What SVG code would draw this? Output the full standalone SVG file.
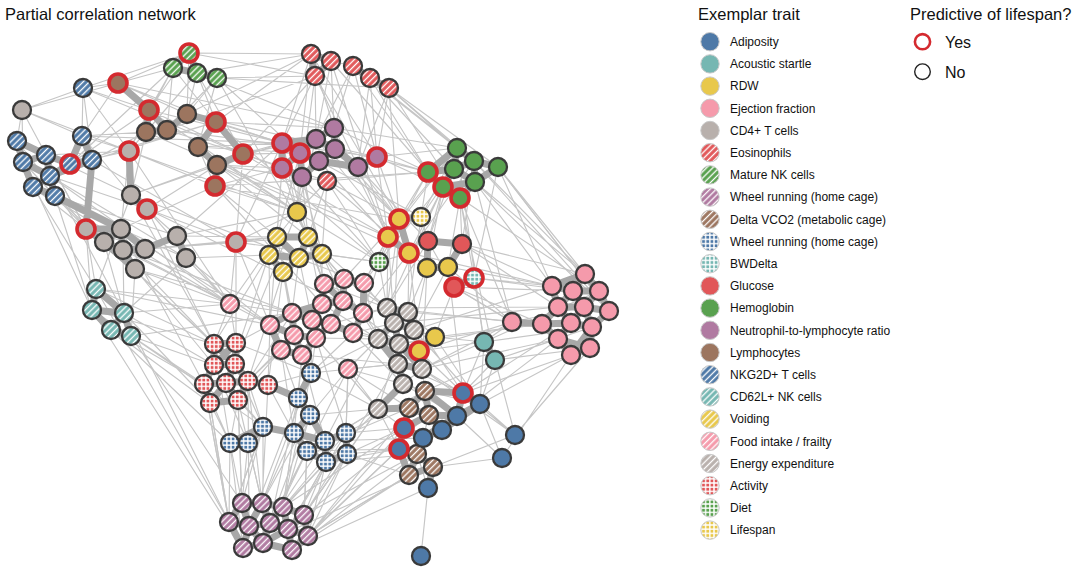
<svg xmlns="http://www.w3.org/2000/svg" width="1080" height="569" viewBox="0 0 1080 569">
<defs>
<pattern id="hEOS" patternUnits="userSpaceOnUse" width="4.4" height="4.4" patternTransform="rotate(45)"><rect width="4.4" height="4.4" fill="#e15759"/><rect x="1.6" width="1.3" height="4.4" fill="#fff"/></pattern>
<pattern id="hNK" patternUnits="userSpaceOnUse" width="4.4" height="4.4" patternTransform="rotate(45)"><rect width="4.4" height="4.4" fill="#59a14f"/><rect x="1.6" width="1.3" height="4.4" fill="#fff"/></pattern>
<pattern id="hWR" patternUnits="userSpaceOnUse" width="4.4" height="4.4" patternTransform="rotate(45)"><rect width="4.4" height="4.4" fill="#b07aa1"/><rect x="1.6" width="1.3" height="4.4" fill="#fff"/></pattern>
<pattern id="hVC" patternUnits="userSpaceOnUse" width="4.4" height="4.4" patternTransform="rotate(45)"><rect width="4.4" height="4.4" fill="#9c755f"/><rect x="1.6" width="1.3" height="4.4" fill="#fff"/></pattern>
<pattern id="hNKG" patternUnits="userSpaceOnUse" width="4.4" height="4.4" patternTransform="rotate(45)"><rect width="4.4" height="4.4" fill="#4e79a7"/><rect x="1.6" width="1.3" height="4.4" fill="#fff"/></pattern>
<pattern id="hCD62" patternUnits="userSpaceOnUse" width="4.4" height="4.4" patternTransform="rotate(45)"><rect width="4.4" height="4.4" fill="#76b7b2"/><rect x="1.6" width="1.3" height="4.4" fill="#fff"/></pattern>
<pattern id="hVOID" patternUnits="userSpaceOnUse" width="4.4" height="4.4" patternTransform="rotate(45)"><rect width="4.4" height="4.4" fill="#e8c84c"/><rect x="1.6" width="1.3" height="4.4" fill="#fff"/></pattern>
<pattern id="hFOOD" patternUnits="userSpaceOnUse" width="4.4" height="4.4" patternTransform="rotate(45)"><rect width="4.4" height="4.4" fill="#f59aab"/><rect x="1.6" width="1.3" height="4.4" fill="#fff"/></pattern>
<pattern id="hEE" patternUnits="userSpaceOnUse" width="4.4" height="4.4" patternTransform="rotate(45)"><rect width="4.4" height="4.4" fill="#b8b0ac"/><rect x="1.6" width="1.3" height="4.4" fill="#fff"/></pattern>
<pattern id="dWR" patternUnits="userSpaceOnUse" width="4.2" height="4.2"><rect width="4.2" height="4.2" fill="#fff"/><rect x="0.7" y="0.7" width="2.8" height="2.8" fill="#4e79a7"/></pattern>
<pattern id="dBW" patternUnits="userSpaceOnUse" width="4.2" height="4.2"><rect width="4.2" height="4.2" fill="#fff"/><rect x="0.7" y="0.7" width="2.8" height="2.8" fill="#76b7b2"/></pattern>
<pattern id="dACT" patternUnits="userSpaceOnUse" width="4.2" height="4.2"><rect width="4.2" height="4.2" fill="#fff"/><rect x="0.7" y="0.7" width="2.8" height="2.8" fill="#e15759"/></pattern>
<pattern id="dDIET" patternUnits="userSpaceOnUse" width="4.2" height="4.2"><rect width="4.2" height="4.2" fill="#fff"/><rect x="0.7" y="0.7" width="2.8" height="2.8" fill="#59a14f"/></pattern>
<pattern id="dLIFE" patternUnits="userSpaceOnUse" width="4.2" height="4.2"><rect width="4.2" height="4.2" fill="#fff"/><rect x="0.7" y="0.7" width="2.8" height="2.8" fill="#e8c84c"/></pattern>
</defs>
<style>
text{font-family:"Liberation Sans",Arial,sans-serif;fill:#111}
.title{font-size:16.5px}
.lt{font-size:12px}
.yn{font-size:16px}
.thin{fill:none;stroke:#c6c6c6;stroke-width:1.15}
.thick{fill:none;stroke:#a8a8a8;stroke-width:7;stroke-linecap:round}
.nodes circle{stroke:#3a3a3a;stroke-width:2.3}
.nodes circle.yes{stroke:#d42a2f;stroke-width:3.6}
.legend circle{stroke:#c8c8c8;stroke-width:1}
.A{fill:#4e79a7}.AS{fill:#76b7b2}.RDW{fill:#e8c84c}.EF{fill:#f59aab}.CD4{fill:#b8b0ac}
.GLU{fill:#e15759}.HB{fill:#59a14f}.NLR{fill:#b07aa1}.LY{fill:#9c755f}
.EOS{fill:url(#hEOS)}.NK{fill:url(#hNK)}.WR{fill:url(#hWR)}.VC{fill:url(#hVC)}.NKG{fill:url(#hNKG)}
.CD62{fill:url(#hCD62)}.VOID{fill:url(#hVOID)}.FOOD{fill:url(#hFOOD)}.EE{fill:url(#hEE)}
.WRD{fill:url(#dWR)}.BW{fill:url(#dBW)}.ACT{fill:url(#dACT)}.DIET{fill:url(#dDIET)}.LIFE{fill:url(#dLIFE)}
</style>
<rect width="1080" height="569" fill="#fff"/>
<text class="title" x="5" y="20">Partial correlation network</text>

<g id="connectors">
<path class="thin" d="M22 110L83 88M22 110L82 136M22 110L129 151M22 110L86 229M22 110L118 83M83 88L118 83M83 88L189 53M83 88L149 110M83 88L129 151M82 136L118 83M82 136L129 151M82 136L146 132M17 141L86 229M17 141L131 195M23 162L86 229M33 187L86 229M55 196L86 229M55 196L177 236M70 164L129 151M70 164L149 110M70 164L216 122M92 160L146 132M92 160L216 122M92 160L236 242M46 155L129 151M50 176L147 209M50 176L186 258M129 151L146 132M129 151L173 68M129 151L215 186M129 151L297 212M131 195L146 132M131 195L243 154M131 195L282 143M147 209L217 165M147 209L230 304M147 209L214 344M86 229L96 289M86 229L92 310M121 229L215 186M121 229L270 325M104 242L124 313M104 242L214 344M123 250L124 313M123 250L230 304M145 249L236 242M145 249L277 237M135 269L131 336M135 269L292 313M135 269L214 365M177 236L282 143M177 236L297 212M186 258L269 255M186 258L230 304M236 242L282 143M236 242L297 212M236 242L243 154M236 242L277 237M236 242L270 325M118 83L189 53M118 83L216 122M118 83L187 114M149 110L173 68M149 110L243 154M149 110L282 143M187 114L189 53M187 114L217 78M187 114L311 54M187 114L282 143M146 132L197 73M167 130L217 78M167 130L315 76M167 130L377 157M216 122L173 68M216 122L311 54M216 122L334 128M216 122L197 73M198 147L282 143M198 147L300 153M198 147L297 212M243 154L315 76M243 154L316 139M243 154L282 168M243 154L388 237M217 165L327 181M217 165L308 237M215 186L282 168M215 186L399 219M215 186L277 237M215 186L428 172M189 53L311 54M189 53L315 76M197 73L311 54M197 73L334 128M217 78L315 76M217 78L389 88M217 78L300 153M173 68L70 164"/>
<path class="thin" d="M311 54L282 143M311 54L300 153M315 76L316 139M315 76L358 167M331 61L334 128M331 61L428 172M353 66L377 157M353 66L457 148M370 78L474 161M370 78L377 157M389 88L457 148M389 88L498 167M389 88L460 198M389 88L358 167M353 66L316 139M315 76L297 212M282 143L297 212M282 143L308 237M334 128L457 148M334 128L428 172M316 139L399 219M335 149L428 172M300 153L297 212M319 161L388 237M319 161L421 217M282 168L277 237M302 177L297 212M302 177L322 254M358 167L399 219M358 167L428 241M377 157L428 172M377 157L443 187M377 157L457 148M377 157L388 237M327 181L399 219M327 181L322 254M327 181L379 262M327 181L427 268M282 168L270 325M300 153L324 284M302 177L379 262M457 148L399 219M474 161L462 244M498 167L585 274M498 167L599 291M498 167L552 286M475 182L585 274M475 182L512 322M428 172L399 219M428 172L388 237M428 172L379 262M443 187L428 241M443 187L409 253M460 198L462 244M460 198L474 278M460 198L512 322M454 169L421 217M474 161L609 311M457 148L484 342M460 198L495 360M443 187L387 308"/>
<path class="thin" d="M297 212L277 237M297 212L308 237M297 212L324 284M297 212L379 262M399 219L394 323M399 219L387 308M388 237L379 262M388 237L387 308M388 237L364 283M409 253L408 312M409 253L422 369M427 268L414 330M448 267L552 286M448 267L512 322M421 217L428 241M428 241L454 287M462 244L552 286M462 244L558 307M454 287L512 322M454 287L542 324M474 278L552 286M474 278L573 291M474 278L484 342M454 287L422 369M379 262L364 283M379 262L363 313M379 262L322 254M379 262L409 253M435 337L408 312M435 337L484 342M419 351L414 330M419 351L398 364M419 351L463 393M435 337L480 404M427 268L422 369M448 267L463 393M428 241L387 308M421 217L408 312M399 219L344 279M277 237L230 304M277 237L292 313M308 237L324 284M308 237L322 304M269 255L270 325M269 255L214 344M299 258L292 313M322 254L344 279M322 254L343 301M283 272L292 313M283 272L294 335M283 272L268 385M299 258L312 320M308 237L387 308M322 254L378 339M512 322L422 369M512 322L484 342M542 324L408 312M558 339L495 360M571 355L480 404M590 348L515 435M571 323L463 393M552 286L414 330M558 307L387 308M592 327L495 360M599 291L484 342M584 307L512 322M585 274L462 244M573 291L454 287M609 311L475 182M571 355L502 458M558 339L457 416M542 324L435 337M484 342L422 369M484 342L480 404M495 360L515 435M495 360L463 393M484 342L419 351M495 360L425 391"/>
<path class="thin" d="M96 289L230 304M96 289L270 325M96 289L131 195M92 310L214 344M92 310L204 384M124 313L230 304M124 313L214 365M111 330L210 403M131 336L204 384M131 336L292 313M131 336L263 427M124 313L186 258M111 330L230 443M96 289L229 522M131 336L242 503M230 304L236 343M230 304L270 325M230 304L292 313M324 284L387 308M344 279L387 308M364 283L394 323M364 283L378 339M322 304L378 339M343 301L399 344M363 313L398 364M363 313L387 308M331 324L399 344M316 338L378 409M353 333L378 339M353 333L403 384M353 333L311 373M302 355L311 373M302 355L298 398M281 350L248 381M294 335L248 381M348 369L403 384M348 369L378 409M348 369L346 433M270 325L236 343M292 313L248 381M312 320L311 373M316 338L346 433M348 369L409 408M302 355L325 441M281 350L294 433M230 304L214 344M236 242L230 304M422 369L480 404M422 369L425 391M398 364L463 393M403 384L425 391M378 409L325 441M378 409L347 454M378 409L404 428M378 409L399 449M378 339L311 373M378 339L348 369M399 344L378 409M403 384L457 416M398 364L442 430M394 323L435 337"/>
<path class="thin" d="M214 344L230 443M214 365L248 443M204 384L230 443M226 383L263 427M248 381L263 427M268 385L294 433M210 403L230 443M238 400L263 427M238 400L242 503M210 403L229 522M248 381L262 503M268 385L311 373M204 384L229 522M236 343L311 373M263 427L242 503M263 427L229 522M294 433L262 503M294 433L283 507M307 451L304 515M307 451L270 523M326 462L304 515M326 462L308 536M347 454L308 536M346 433L404 428M347 454L399 449M325 441L423 438M230 443L229 522M248 443L262 503M310 415L283 507M298 398L270 523M326 462L288 529M347 454L304 515M346 433L425 391M311 373L378 409M325 441L378 409M311 373L398 364M310 415L378 409M307 451L399 449M326 462L399 449M347 454L404 428M425 391L480 404M409 408L404 428M429 415L423 438M409 475L399 449M417 454L428 488M433 467L502 458M433 467L515 435M463 393L515 435M480 404L515 435M480 404L502 458M457 416L502 458M463 393L408 312M480 404L414 330M515 435L422 369M463 393L484 342M480 404L495 360M428 488L421 556M409 475L308 536M417 454L304 515M399 449L308 536M404 428L283 507M423 438L325 441M409 475L292 550"/>
<path class="thin" d="M242 503L230 443M262 503L248 443M283 507L294 433M304 515L307 451M229 522L263 427M270 523L326 462M288 529L326 462M308 536L404 428M308 536L425 391M292 550L399 449M292 550L417 454M283 507L346 433M304 515L347 454M270 523L325 441M249 526L298 398M242 503L238 400M263 543L307 451M262 503L311 373M229 522L124 313M243 548L92 310M83 88L243 154M82 136L282 143M33 187L230 304M55 196L214 344M23 162L92 310M50 176L230 304M118 83L334 128M149 110L297 212M187 114L377 157M146 132L388 237M167 130L327 181M216 122L379 262M217 165L409 253M215 186L322 304M197 73L243 154M217 78L308 237M311 54L377 157M331 61L388 237M315 76L399 219M370 78L428 172M389 88L399 219M334 128L388 237M316 139L409 253M457 148L388 237M474 161L409 253M498 167L474 278M454 169L379 262M428 172L327 181M131 195L364 283M147 209L363 313M104 242L292 313M177 236L277 237M186 258L270 325M236 242L379 262M129 151L230 304M86 229L230 304M121 229L204 384M145 249L308 237"/>
<path class="thin" d="M512 322L387 308M552 286L409 253M558 307L394 323M542 324L399 344M558 339L422 369M571 355L463 393M512 322L454 287M512 322L419 351M599 291L460 198M609 311L498 167M590 348L495 360M592 327L484 342M262 503L268 385M283 507L311 373M304 515L378 409M229 522L204 384M249 526L248 381M270 523L348 369M288 529L346 433M243 548L230 443M263 543L263 427M292 550L347 454M304 515L398 364M283 507L378 409M262 503L310 415M242 503L248 443M229 522L210 403M270 523L310 415M288 529L429 415M308 536L409 475M292 550L428 488M263 543L433 467M214 344L131 195M236 343L236 242M235 364L297 212M226 383L269 255M248 381L283 272M268 385L270 325M210 403L124 313M238 400L294 335M214 365L131 336M204 384L111 330M214 344L96 289M311 373L316 338M298 398L281 350M310 415L348 369M294 433L302 355M346 433L348 369M325 441L378 339M307 451L409 408M326 462L417 454M347 454L409 475M263 427L235 364M230 443L238 400M248 443L238 400"/>
<path class="thin" d="M17 141L22 110M83 88L82 136M83 88L92 160M22 110L23 162M82 136L131 195M46 155L86 229M33 187L96 289M55 196L92 310M50 176L124 313M86 229L145 249M121 229L186 258M135 269L230 304M123 250L214 344M131 195L177 236M147 209L236 242M129 151L121 229M129 151L149 110M118 83L173 68M149 110L189 53M167 130L173 68M187 114L197 73M198 147L217 78M243 154L300 153M217 165L282 168M215 186L297 212M217 165L297 212M243 154L282 143M198 147L215 186M216 122L282 143M311 54L334 128M315 76L282 143M331 61L316 139M353 66L334 128M370 78L358 167M389 88L377 157M353 66L428 172M370 78L454 169M389 88L474 161M331 61L353 66M327 181L308 237M327 181L297 212M302 177L308 237M358 167L388 237M377 157L399 219M300 153L277 237M282 168L297 212M316 139L297 212M335 149L399 219M498 167L609 311M475 182L552 286M460 198L448 267M443 187L427 268M474 161L585 274M454 169L428 241M428 172L421 217M457 148L421 217M324 284L297 212M344 279L308 237M364 283L388 237M322 304L322 254M363 313L409 253M353 333L394 323M348 369L398 364M331 324L387 308M316 338L378 339M302 355L398 364M408 312L427 268M414 330L448 267M387 308L379 262M394 323L388 237M399 344L435 337M422 369L435 337M403 384L422 369M398 364L378 339"/>
<path class="thick" d="M189 53L173 68M189 53L197 73M173 68L197 73M197 73L217 78M17 141L23 162M46 155L50 176M23 162L50 176M50 176L33 187M33 187L55 196M92 160L70 164M70 164L50 176M82 136L92 160M46 155L70 164M55 196L121 229M92 160L86 229M50 176L55 196M129 151L131 195M131 195L147 209M86 229L104 242M121 229L104 242M121 229L123 250M123 250L145 249M123 250L135 269M177 236L186 258M104 242L123 250M118 83L149 110M149 110L146 132M146 132L167 130M167 130L187 114M216 122L243 154M198 147L217 165M217 165L215 186M187 114L216 122M311 54L331 61M311 54L315 76M331 61L315 76M353 66L370 78M370 78L389 88M282 143L300 153M300 153L282 168M282 143L282 168M334 128L316 139M316 139L335 149M335 149L319 161M300 153L319 161M319 161L302 177M282 168L302 177M319 161L358 167M358 167L377 157M334 128L335 149M316 139L300 153M335 149L358 167M457 148L454 169M457 148L474 161M474 161L475 182M454 169L475 182M474 161L498 167M498 167L475 182M428 172L443 187M443 187L460 198M454 169L428 172M475 182L460 198M474 161L454 169M399 219L388 237M388 237L409 253M427 268L448 267M399 219L421 217M428 241L462 244M454 287L474 278M435 337L419 351M277 237L269 255M308 237L299 258M269 255L283 272M299 258L283 272M299 258L322 254M277 237L308 237M269 255L299 258"/>
<path class="thick" d="M585 274L599 291M552 286L573 291M573 291L584 307M599 291L584 307M558 307L584 307M573 291L558 307M584 307L609 311M558 307L542 324M542 324L571 323M571 323L592 327M571 323L558 339M558 339L571 355M592 327L590 348M590 348L571 355M512 322L542 324M552 286L558 307M599 291L609 311M585 274L573 291M584 307L571 323M585 274L552 286M609 311L592 327M542 324L558 339M484 342L495 360M96 289L92 310M92 310L111 330M124 313L111 330M111 330L131 336M124 313L131 336M324 284L344 279M344 279L364 283M324 284L322 304M322 304L343 301M343 301L363 313M344 279L343 301M292 313L312 320M312 320L331 324M292 313L270 325M270 325L294 335M294 335L316 338M312 320L316 338M331 324L316 338M294 335L281 350M281 350L302 355M316 338L302 355M331 324L353 333M363 313L353 333M322 304L312 320M292 313L294 335M387 308L408 312M387 308L394 323M408 312L414 330M394 323L414 330M394 323L378 339M394 323L399 344M378 339L399 344M399 344L398 364M398 364L422 369M398 364L403 384M399 344L414 330M403 384L378 409M378 409L409 408M419 351L399 344"/>
<path class="thick" d="M214 344L236 343M214 344L214 365M236 343L235 364M214 365L235 364M214 365L204 384M204 384L226 383M226 383L248 381M248 381L268 385M204 384L210 403M226 383L238 400M210 403L238 400M235 364L226 383M298 398L310 415M310 415L294 433M263 427L294 433M294 433L307 451M325 441L346 433M325 441L307 451M346 433L347 454M307 451L326 462M347 454L326 462M325 441L326 462M230 443L248 443M268 385L298 398M310 415L325 441M311 373L298 398M425 391L409 408M409 408L429 415M425 391L429 415M417 454L433 467M417 454L409 475M433 467L409 475M425 391L463 393M463 393L480 404M463 393L457 416M457 416L442 430M442 430L423 438M423 438L404 428M404 428L399 449M399 449L417 454M480 404L457 416M429 415L442 430M433 467L428 488M423 438L417 454M429 415L404 428M242 503L262 503M262 503L283 507M283 507L304 515M242 503L229 522M229 522L249 526M249 526L270 523M270 523L288 529M288 529L308 536M304 515L308 536M262 503L249 526M283 507L270 523M229 522L243 548M243 548L263 543M263 543L292 550M292 550L288 529M249 526L263 543M270 523L263 543M304 515L288 529M242 503L249 526"/>
<path class="thick" d="M558 307L571 323M584 307L592 327M592 327L571 355M558 339L590 348M573 291L599 291M262 503L270 523M283 507L288 529M243 548L249 526M263 543L288 529M292 550L308 536M324 284L343 301M364 283L363 313M343 301L331 324M270 325L281 350M294 335L302 355M292 313L322 304M408 312L394 323M378 339L398 364M399 344L422 369M214 344L235 364M236 343L214 365M226 383L210 403M248 381L238 400M235 364L248 381M294 433L325 441M263 427L230 443M263 427L248 443M282 143L316 139M300 153L302 177M457 148L428 172M454 169L443 187M475 182L443 187M149 110L167 130M216 122L198 147M243 154L217 165M17 141L46 155M46 155L23 162M23 162L33 187M82 136L70 164M92 160L50 176M121 229L145 249M104 242L135 269M86 229L121 229M177 236L145 249M480 404L442 430M457 416L423 438M425 391L457 416M409 408L404 428M429 415L457 416M409 475L399 449M277 237L299 258M308 237L322 254M399 219L409 253M427 268L428 241M448 267L462 244M96 289L124 313M92 310L124 313"/>
</g>

<g class="nodes">
<g id="n1"><circle class="NK yes" cx="189" cy="53" r="9"/></g>
<g id="n2"><circle class="NK" cx="173" cy="68" r="9"/></g>
<g id="n3"><circle class="NK" cx="197" cy="73" r="9"/></g>
<g id="n4"><circle class="NK" cx="217" cy="78" r="9"/></g>
<g id="n5"><circle class="NKG" cx="83" cy="88" r="9"/></g>
<g id="n6"><circle class="NKG" cx="82" cy="136" r="9"/></g>
<g id="n7"><circle class="NKG" cx="17" cy="141" r="9"/></g>
<g id="n8"><circle class="NKG" cx="46" cy="155" r="9"/></g>
<g id="n9"><circle class="NKG" cx="23" cy="162" r="9"/></g>
<g id="n10"><circle class="NKG" cx="92" cy="160" r="9"/></g>
<g id="n11"><circle class="NKG yes" cx="70" cy="164" r="9"/></g>
<g id="n12"><circle class="NKG" cx="50" cy="176" r="9"/></g>
<g id="n13"><circle class="NKG" cx="33" cy="187" r="9"/></g>
<g id="n14"><circle class="NKG" cx="55" cy="196" r="9"/></g>
<g id="n15"><circle class="CD4" cx="22" cy="110" r="9"/></g>
<g id="n16"><circle class="CD4 yes" cx="129" cy="151" r="9"/></g>
<g id="n17"><circle class="CD4" cx="131" cy="195" r="9"/></g>
<g id="n18"><circle class="CD4 yes" cx="147" cy="209" r="9"/></g>
<g id="n19"><circle class="CD4 yes" cx="86" cy="229" r="9"/></g>
<g id="n20"><circle class="CD4" cx="121" cy="229" r="9"/></g>
<g id="n21"><circle class="CD4" cx="104" cy="242" r="9"/></g>
<g id="n22"><circle class="CD4" cx="123" cy="250" r="9"/></g>
<g id="n23"><circle class="CD4" cx="145" cy="249" r="9"/></g>
<g id="n24"><circle class="CD4" cx="135" cy="269" r="9"/></g>
<g id="n25"><circle class="CD4" cx="177" cy="236" r="9"/></g>
<g id="n26"><circle class="CD4" cx="186" cy="258" r="9"/></g>
<g id="n27"><circle class="CD4 yes" cx="236" cy="242" r="9"/></g>
<g id="n28"><circle class="LY yes" cx="118" cy="83" r="9"/></g>
<g id="n29"><circle class="LY yes" cx="149" cy="110" r="9"/></g>
<g id="n30"><circle class="LY" cx="187" cy="114" r="9"/></g>
<g id="n31"><circle class="LY" cx="146" cy="132" r="9"/></g>
<g id="n32"><circle class="LY" cx="167" cy="130" r="9"/></g>
<g id="n33"><circle class="LY yes" cx="216" cy="122" r="9"/></g>
<g id="n34"><circle class="LY" cx="198" cy="147" r="9"/></g>
<g id="n35"><circle class="LY yes" cx="243" cy="154" r="9"/></g>
<g id="n36"><circle class="LY" cx="217" cy="165" r="9"/></g>
<g id="n37"><circle class="LY yes" cx="215" cy="186" r="9"/></g>
<g id="n38"><circle class="EOS" cx="311" cy="54" r="9"/></g>
<g id="n39"><circle class="EOS" cx="331" cy="61" r="9"/></g>
<g id="n40"><circle class="EOS" cx="315" cy="76" r="9"/></g>
<g id="n41"><circle class="EOS" cx="353" cy="66" r="9"/></g>
<g id="n42"><circle class="EOS" cx="370" cy="78" r="9"/></g>
<g id="n43"><circle class="EOS" cx="389" cy="88" r="9"/></g>
<g id="n44"><circle class="EOS" cx="327" cy="181" r="9"/></g>
<g id="n45"><circle class="NLR yes" cx="282" cy="143" r="9"/></g>
<g id="n46"><circle class="NLR" cx="334" cy="128" r="9"/></g>
<g id="n47"><circle class="NLR" cx="316" cy="139" r="9"/></g>
<g id="n48"><circle class="NLR" cx="335" cy="149" r="9"/></g>
<g id="n49"><circle class="NLR yes" cx="300" cy="153" r="9"/></g>
<g id="n50"><circle class="NLR" cx="319" cy="161" r="9"/></g>
<g id="n51"><circle class="NLR yes" cx="282" cy="168" r="9"/></g>
<g id="n52"><circle class="NLR" cx="302" cy="177" r="9"/></g>
<g id="n53"><circle class="NLR" cx="358" cy="167" r="9"/></g>
<g id="n54"><circle class="NLR yes" cx="377" cy="157" r="9"/></g>
<g id="n55"><circle class="HB" cx="457" cy="148" r="9"/></g>
<g id="n56"><circle class="HB" cx="474" cy="161" r="9"/></g>
<g id="n57"><circle class="HB" cx="498" cy="167" r="9"/></g>
<g id="n58"><circle class="HB" cx="454" cy="169" r="9"/></g>
<g id="n59"><circle class="HB" cx="475" cy="182" r="9"/></g>
<g id="n60"><circle class="HB yes" cx="428" cy="172" r="9"/></g>
<g id="n61"><circle class="HB yes" cx="443" cy="187" r="9"/></g>
<g id="n62"><circle class="HB yes" cx="460" cy="198" r="9"/></g>
<g id="n63"><circle class="RDW" cx="297" cy="212" r="9"/></g>
<g id="n64"><circle class="RDW yes" cx="399" cy="219" r="9"/></g>
<g id="n65"><circle class="RDW yes" cx="388" cy="237" r="9"/></g>
<g id="n66"><circle class="RDW yes" cx="409" cy="253" r="9"/></g>
<g id="n67"><circle class="RDW" cx="427" cy="268" r="9"/></g>
<g id="n68"><circle class="RDW" cx="448" cy="267" r="9"/></g>
<g id="n69"><circle class="RDW" cx="435" cy="337" r="9"/></g>
<g id="n70"><circle class="RDW yes" cx="419" cy="351" r="9"/></g>
<g id="n71"><circle class="VOID" cx="277" cy="237" r="9"/></g>
<g id="n72"><circle class="VOID" cx="308" cy="237" r="9"/></g>
<g id="n73"><circle class="VOID" cx="269" cy="255" r="9"/></g>
<g id="n74"><circle class="VOID" cx="299" cy="258" r="9"/></g>
<g id="n75"><circle class="VOID" cx="322" cy="254" r="9"/></g>
<g id="n76"><circle class="VOID" cx="283" cy="272" r="9"/></g>
<g id="n77"><circle class="LIFE" cx="421" cy="217" r="9"/></g>
<g id="n78"><circle class="DIET" cx="379" cy="262" r="9"/></g>
<g id="n79"><circle class="GLU" cx="428" cy="241" r="9"/></g>
<g id="n80"><circle class="GLU" cx="462" cy="244" r="9"/></g>
<g id="n81"><circle class="GLU yes" cx="454" cy="287" r="9"/></g>
<g id="n82"><circle class="BW yes" cx="474" cy="278" r="9"/></g>
<g id="n83"><circle class="EF" cx="585" cy="274" r="9"/></g>
<g id="n84"><circle class="EF" cx="552" cy="286" r="9"/></g>
<g id="n85"><circle class="EF" cx="573" cy="291" r="9"/></g>
<g id="n86"><circle class="EF" cx="599" cy="291" r="9"/></g>
<g id="n87"><circle class="EF" cx="558" cy="307" r="9"/></g>
<g id="n88"><circle class="EF" cx="584" cy="307" r="9"/></g>
<g id="n89"><circle class="EF" cx="609" cy="311" r="9"/></g>
<g id="n90"><circle class="EF" cx="512" cy="322" r="9"/></g>
<g id="n91"><circle class="EF" cx="542" cy="324" r="9"/></g>
<g id="n92"><circle class="EF" cx="571" cy="323" r="9"/></g>
<g id="n93"><circle class="EF" cx="592" cy="327" r="9"/></g>
<g id="n94"><circle class="EF" cx="558" cy="339" r="9"/></g>
<g id="n95"><circle class="EF" cx="590" cy="348" r="9"/></g>
<g id="n96"><circle class="EF" cx="571" cy="355" r="9"/></g>
<g id="n97"><circle class="AS" cx="484" cy="342" r="9"/></g>
<g id="n98"><circle class="AS" cx="495" cy="360" r="9"/></g>
<g id="n99"><circle class="CD62" cx="96" cy="289" r="9"/></g>
<g id="n100"><circle class="CD62" cx="92" cy="310" r="9"/></g>
<g id="n101"><circle class="CD62" cx="124" cy="313" r="9"/></g>
<g id="n102"><circle class="CD62" cx="111" cy="330" r="9"/></g>
<g id="n103"><circle class="CD62" cx="131" cy="336" r="9"/></g>
<g id="n104"><circle class="FOOD" cx="230" cy="304" r="9"/></g>
<g id="n105"><circle class="FOOD" cx="324" cy="284" r="9"/></g>
<g id="n106"><circle class="FOOD" cx="344" cy="279" r="9"/></g>
<g id="n107"><circle class="FOOD" cx="364" cy="283" r="9"/></g>
<g id="n108"><circle class="FOOD" cx="322" cy="304" r="9"/></g>
<g id="n109"><circle class="FOOD" cx="343" cy="301" r="9"/></g>
<g id="n110"><circle class="FOOD" cx="363" cy="313" r="9"/></g>
<g id="n111"><circle class="FOOD" cx="292" cy="313" r="9"/></g>
<g id="n112"><circle class="FOOD" cx="312" cy="320" r="9"/></g>
<g id="n113"><circle class="FOOD" cx="331" cy="324" r="9"/></g>
<g id="n114"><circle class="FOOD" cx="270" cy="325" r="9"/></g>
<g id="n115"><circle class="FOOD" cx="294" cy="335" r="9"/></g>
<g id="n116"><circle class="FOOD" cx="316" cy="338" r="9"/></g>
<g id="n117"><circle class="FOOD" cx="353" cy="333" r="9"/></g>
<g id="n118"><circle class="FOOD" cx="281" cy="350" r="9"/></g>
<g id="n119"><circle class="FOOD" cx="302" cy="355" r="9"/></g>
<g id="n120"><circle class="FOOD" cx="348" cy="369" r="9"/></g>
<g id="n121"><circle class="EE" cx="387" cy="308" r="9"/></g>
<g id="n122"><circle class="EE" cx="408" cy="312" r="9"/></g>
<g id="n123"><circle class="EE" cx="394" cy="323" r="9"/></g>
<g id="n124"><circle class="EE" cx="414" cy="330" r="9"/></g>
<g id="n125"><circle class="EE" cx="378" cy="339" r="9"/></g>
<g id="n126"><circle class="EE" cx="399" cy="344" r="9"/></g>
<g id="n127"><circle class="EE" cx="398" cy="364" r="9"/></g>
<g id="n128"><circle class="EE" cx="422" cy="369" r="9"/></g>
<g id="n129"><circle class="EE" cx="403" cy="384" r="9"/></g>
<g id="n130"><circle class="EE" cx="378" cy="409" r="9"/></g>
<g id="n131"><circle class="ACT" cx="214" cy="344" r="9"/></g>
<g id="n132"><circle class="ACT" cx="236" cy="343" r="9"/></g>
<g id="n133"><circle class="ACT" cx="214" cy="365" r="9"/></g>
<g id="n134"><circle class="ACT" cx="235" cy="364" r="9"/></g>
<g id="n135"><circle class="ACT" cx="204" cy="384" r="9"/></g>
<g id="n136"><circle class="ACT" cx="226" cy="383" r="9"/></g>
<g id="n137"><circle class="ACT" cx="248" cy="381" r="9"/></g>
<g id="n138"><circle class="ACT" cx="268" cy="385" r="9"/></g>
<g id="n139"><circle class="ACT" cx="210" cy="403" r="9"/></g>
<g id="n140"><circle class="ACT" cx="238" cy="400" r="9"/></g>
<g id="n141"><circle class="WRD" cx="311" cy="373" r="9"/></g>
<g id="n142"><circle class="WRD" cx="298" cy="398" r="9"/></g>
<g id="n143"><circle class="WRD" cx="310" cy="415" r="9"/></g>
<g id="n144"><circle class="WRD" cx="263" cy="427" r="9"/></g>
<g id="n145"><circle class="WRD" cx="294" cy="433" r="9"/></g>
<g id="n146"><circle class="WRD" cx="325" cy="441" r="9"/></g>
<g id="n147"><circle class="WRD" cx="346" cy="433" r="9"/></g>
<g id="n148"><circle class="WRD" cx="307" cy="451" r="9"/></g>
<g id="n149"><circle class="WRD" cx="347" cy="454" r="9"/></g>
<g id="n150"><circle class="WRD" cx="326" cy="462" r="9"/></g>
<g id="n151"><circle class="WRD" cx="230" cy="443" r="9"/></g>
<g id="n152"><circle class="WRD" cx="248" cy="443" r="9"/></g>
<g id="n153"><circle class="VC" cx="425" cy="391" r="9"/></g>
<g id="n154"><circle class="VC" cx="409" cy="408" r="9"/></g>
<g id="n155"><circle class="VC" cx="429" cy="415" r="9"/></g>
<g id="n156"><circle class="VC" cx="417" cy="454" r="9"/></g>
<g id="n157"><circle class="VC" cx="433" cy="467" r="9"/></g>
<g id="n158"><circle class="VC" cx="409" cy="475" r="9"/></g>
<g id="n159"><circle class="A yes" cx="463" cy="393" r="9"/></g>
<g id="n160"><circle class="A" cx="480" cy="404" r="9"/></g>
<g id="n161"><circle class="A" cx="457" cy="416" r="9"/></g>
<g id="n162"><circle class="A" cx="442" cy="430" r="9"/></g>
<g id="n163"><circle class="A" cx="423" cy="438" r="9"/></g>
<g id="n164"><circle class="A yes" cx="404" cy="428" r="9"/></g>
<g id="n165"><circle class="A yes" cx="399" cy="449" r="9"/></g>
<g id="n166"><circle class="A" cx="515" cy="435" r="9"/></g>
<g id="n167"><circle class="A" cx="502" cy="458" r="9"/></g>
<g id="n168"><circle class="A" cx="428" cy="488" r="9"/></g>
<g id="n169"><circle class="A" cx="421" cy="556" r="9"/></g>
<g id="n170"><circle class="WR" cx="242" cy="503" r="9"/></g>
<g id="n171"><circle class="WR" cx="262" cy="503" r="9"/></g>
<g id="n172"><circle class="WR" cx="283" cy="507" r="9"/></g>
<g id="n173"><circle class="WR" cx="304" cy="515" r="9"/></g>
<g id="n174"><circle class="WR" cx="229" cy="522" r="9"/></g>
<g id="n175"><circle class="WR" cx="249" cy="526" r="9"/></g>
<g id="n176"><circle class="WR" cx="270" cy="523" r="9"/></g>
<g id="n177"><circle class="WR" cx="288" cy="529" r="9"/></g>
<g id="n178"><circle class="WR" cx="308" cy="536" r="9"/></g>
<g id="n179"><circle class="WR" cx="243" cy="548" r="9"/></g>
<g id="n180"><circle class="WR" cx="263" cy="543" r="9"/></g>
<g id="n181"><circle class="WR" cx="292" cy="550" r="9"/></g>
</g>

<g id="legend" class="legend">
<text class="title" x="698" y="20">Exemplar trait</text>
<g id="lg-adiposity"><circle class="A" cx="710" cy="41.7" r="9.2"/><text class="lt" x="730" y="46">Adiposity</text></g>
<g id="lg-acoustic"><circle class="AS" cx="710" cy="63.9" r="9.2"/><text class="lt" x="730" y="68.2">Acoustic startle</text></g>
<g id="lg-rdw"><circle class="RDW" cx="710" cy="86.1" r="9.2"/><text class="lt" x="730" y="90.4">RDW</text></g>
<g id="lg-ef"><circle class="EF" cx="710" cy="108.3" r="9.2"/><text class="lt" x="730" y="112.6">Ejection fraction</text></g>
<g id="lg-cd4"><circle class="CD4" cx="710" cy="130.5" r="9.2"/><text class="lt" x="730" y="134.8">CD4+ T cells</text></g>
<g id="lg-eos"><circle class="EOS" cx="710" cy="152.7" r="9.2"/><text class="lt" x="730" y="157">Eosinophils</text></g>
<g id="lg-nk"><circle class="NK" cx="710" cy="174.9" r="9.2"/><text class="lt" x="730" y="179.2">Mature NK cells</text></g>
<g id="lg-wrh"><circle class="WR" cx="710" cy="197.1" r="9.2"/><text class="lt" x="730" y="201.4">Wheel running (home cage)</text></g>
<g id="lg-vco2"><circle class="VC" cx="710" cy="219.3" r="9.2"/><text class="lt" x="730" y="223.6">Delta VCO2 (metabolic cage)</text></g>
<g id="lg-wrd"><circle class="WRD" cx="710" cy="241.5" r="9.2"/><text class="lt" x="730" y="245.8">Wheel running (home cage)</text></g>
<g id="lg-bw"><circle class="BW" cx="710" cy="263.7" r="9.2"/><text class="lt" x="730" y="268">BWDelta</text></g>
<g id="lg-glu"><circle class="GLU" cx="710" cy="285.9" r="9.2"/><text class="lt" x="730" y="290.2">Glucose</text></g>
<g id="lg-hb"><circle class="HB" cx="710" cy="308.1" r="9.2"/><text class="lt" x="730" y="312.4">Hemoglobin</text></g>
<g id="lg-nlr"><circle class="NLR" cx="710" cy="330.3" r="9.2"/><text class="lt" x="730" y="334.6">Neutrophil-to-lymphocyte ratio</text></g>
<g id="lg-ly"><circle class="LY" cx="710" cy="352.5" r="9.2"/><text class="lt" x="730" y="356.8">Lymphocytes</text></g>
<g id="lg-nkg"><circle class="NKG" cx="710" cy="374.7" r="9.2"/><text class="lt" x="730" y="379">NKG2D+ T cells</text></g>
<g id="lg-cd62"><circle class="CD62" cx="710" cy="396.9" r="9.2"/><text class="lt" x="730" y="401.2">CD62L+ NK cells</text></g>
<g id="lg-void"><circle class="VOID" cx="710" cy="419.1" r="9.2"/><text class="lt" x="730" y="423.4">Voiding</text></g>
<g id="lg-food"><circle class="FOOD" cx="710" cy="441.3" r="9.2"/><text class="lt" x="730" y="445.6">Food intake / frailty</text></g>
<g id="lg-ee"><circle class="EE" cx="710" cy="463.5" r="9.2"/><text class="lt" x="730" y="467.8">Energy expenditure</text></g>
<g id="lg-act"><circle class="ACT" cx="710" cy="485.7" r="9.2"/><text class="lt" x="730" y="490">Activity</text></g>
<g id="lg-diet"><circle class="DIET" cx="710" cy="507.9" r="9.2"/><text class="lt" x="730" y="512.2">Diet</text></g>
<g id="lg-life"><circle class="LIFE" cx="710" cy="530.1" r="9.2"/><text class="lt" x="730" y="534.4">Lifespan</text></g>
</g>

<g id="legend-predictive">
<text class="title" x="910" y="20">Predictive of lifespan?</text>
<g id="lg-yes"><circle cx="922.5" cy="41.7" r="7.6" fill="#fff" stroke="#d42a2f" stroke-width="2.6"/><text class="yn" x="945" y="47.5">Yes</text></g>
<g id="lg-no"><circle cx="922.5" cy="71.7" r="7.8" fill="#fff" stroke="#222" stroke-width="1.4"/><text class="yn" x="945" y="77.5">No</text></g>
</g>
</svg>
